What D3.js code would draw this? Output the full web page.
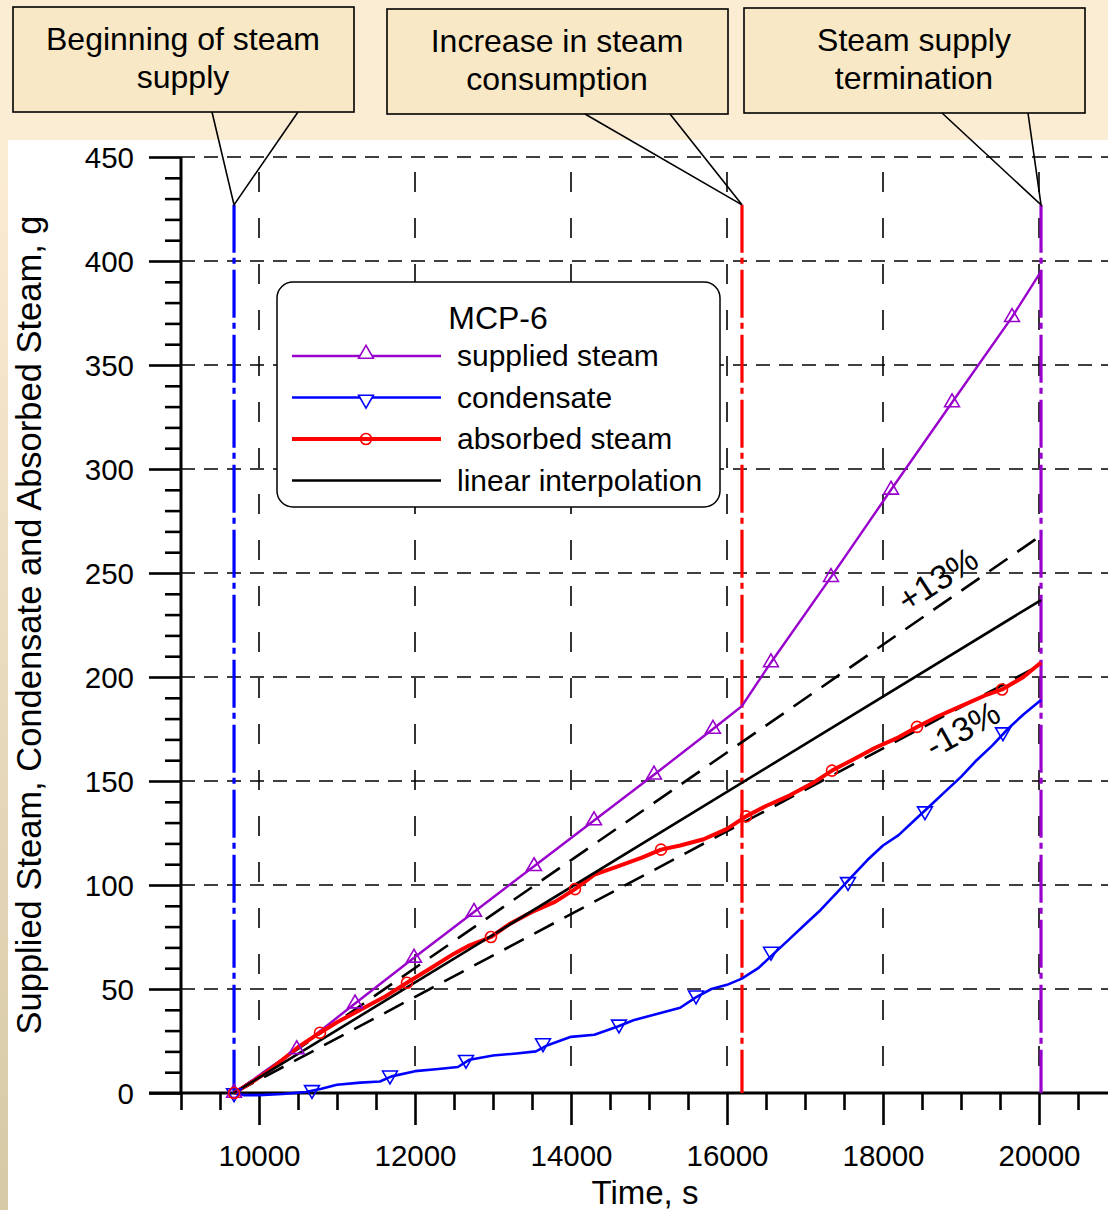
<!DOCTYPE html>
<html>
<head>
<meta charset="utf-8">
<script src="https://cdn.jsdelivr.net/npm/d3@7"></script>
<style>
  body { margin: 0; background: #fff; }
  svg { display: block; font-family: "Liberation Sans", Arial, sans-serif; }
</style>
</head>
<body>
<div id="chart"></div>
<script>
// ---- data ----
var supplyT = [9680, 10483, 11231, 11987, 12756, 13526, 14295, 15064, 15820, 16190, 16564, 17333, 18103, 18885, 19654, 20026];
var supplyV = [0, 21, 43, 65, 87, 109, 131, 153, 175, 186, 207, 248, 290, 332, 373, 395];
var supplyMarkT = [9680, 10483, 11231, 11987, 12756, 13526, 14295, 15064, 15820, 16564, 17333, 18103, 18885, 19654];
var supplyMarkV = [0, 21, 43, 65, 87, 109, 131, 153, 175, 207, 248, 290, 332, 373];

var condT = [9680, 9800, 10000, 10300, 10600, 10800, 11000, 11300, 11550, 11700, 12000, 12300, 12550, 12700, 13000, 13300, 13550, 13700, 14000, 14300, 14600, 14800, 15100, 15400, 15600, 15800, 16000, 16190, 16400, 16600, 16800, 17000, 17200, 17400, 17600, 17800, 18000, 18200, 18400, 18600, 18800, 19000, 19200, 19400, 19600, 19800, 20026];
var condV = [0, -1, -1, -0.5, 0.5, 2, 4, 5, 5.5, 8, 10.5, 11.5, 12.5, 16, 18, 19, 20, 23, 27, 28, 32, 35, 38, 41, 46, 50, 52, 55, 60, 67, 74, 81, 88, 96, 104, 112, 119, 124, 131, 138, 145, 152, 160, 167, 175, 182, 189];
var condMarkT = [9680, 10679, 11679, 12654, 13641, 14615, 15603, 16564, 17551, 18538, 19538];
var condMarkV = [0, 1.5, 8.5, 16, 24, 33, 47, 68, 101.5, 135.5, 173.5];

var absT = [9680, 9900, 10100, 10300, 10500, 10782, 11000, 11300, 11600, 11897, 12200, 12500, 12700, 12974, 13200, 13500, 13800, 14051, 14300, 14600, 14900, 15154, 15400, 15700, 16000, 16244, 16500, 16800, 17100, 17346, 17600, 17900, 18200, 18436, 18700, 19000, 19300, 19526, 19800, 20026];
var absV = [0, 5, 10, 16, 22, 29, 34, 40, 46, 53, 60, 67, 71, 75, 81, 87, 92, 98, 105, 109, 113, 117, 119, 122, 127, 133, 138, 143, 149, 155, 160, 166, 171, 176, 181, 186, 191, 194, 200, 207];
var absMarkT = [9680, 10782, 11897, 12974, 14051, 15154, 16244, 17346, 18436, 19526];
var absMarkV = [0, 29, 53, 75, 98, 117, 133, 155, 176, 194];

// linear interpolation and +/-13 % band
var linT = [9680, 20026];
var linV = [0, 237];
var plusV = [0, 268];
var minusV = [0, 206];

// event markers (start, increase, termination)
var eventT = [9680, 16192, 20026];
var eventTop = 427;
var eventColors = ["#0000ff", "#ff0000", "#9900cc"];
var calloutText = [["Beginning of steam", "supply"], ["Increase in steam", "consumption"], ["Steam supply", "termination"]];

var xMajor = [10000, 12000, 14000, 16000, 18000, 20000];
var xMinor = d3.range(9000, 20501, 500).filter(function(v){ return v % 2000 !== 0; });
var yMajor = [0, 50, 100, 150, 200, 250, 300, 350, 400, 450];
var yMinor = d3.range(0, 451, 10).filter(function(v){ return v % 50 !== 0; });

var legendNames = ["supplied steam", "condensate", "absorbed steam", "linear interpolation"];

// ---- drawing ----
var W = 1108, H = 1210;
var svg = d3.select("#chart").append("svg").attr("width", W).attr("height", H);

var defs = svg.append("defs");
var grad = defs.append("linearGradient").attr("id", "side").attr("x1", 0).attr("y1", 0).attr("x2", 0).attr("y2", 1);
grad.append("stop").attr("offset", "0%").attr("stop-color", "#fbecd4");
grad.append("stop").attr("offset", "100%").attr("stop-color", "#d6c9a6");

svg.append("rect").attr("width", W).attr("height", H).attr("fill", "#fbecd4");
svg.append("rect").attr("x", 0).attr("y", 140).attr("width", 8).attr("height", H - 140).attr("fill", "url(#side)");
svg.append("rect").attr("x", 8).attr("y", 140).attr("width", W - 8).attr("height", H - 140).attr("fill", "#fff");

var x = d3.scaleLinear().domain([10000, 20000]).range([259, 1039]);
var y = d3.scaleLinear().domain([0, 450]).range([1093, 157]);

// grid
var grid = svg.append("g").attr("stroke", "#000").attr("stroke-width", 1.6);
grid.selectAll("line.h").data(yMajor.filter(function(v){ return v > 0; })).enter().append("line")
	.attr("x1", 181).attr("x2", W)
	.attr("y1", function(d){ return y(d); }).attr("y2", function(d){ return y(d); })
	.attr("stroke-dasharray", "14,9");
grid.selectAll("line.v").data(xMajor).enter().append("line")
	.attr("x1", function(d){ return x(d); }).attr("x2", function(d){ return x(d); })
	.attr("y1", y(450)).attr("y2", y(0))
	.attr("stroke-dasharray", "0,15,20,11");

// axes
var xMinorAxis = svg.append("g").attr("transform", "translate(0," + y(0) + ")")
	.call(d3.axisBottom(x).tickValues(xMinor).tickSize(17).tickFormat(""));
var xMajorAxis = svg.append("g").attr("transform", "translate(0," + y(0) + ")")
	.call(d3.axisBottom(x).tickValues(xMajor).tickSize(32).tickPadding(20).tickFormat(d3.format("d")));
var yMinorAxis = svg.append("g").attr("transform", "translate(181,0)")
	.call(d3.axisLeft(y).tickValues(yMinor).tickSize(16).tickFormat(""));
var yMajorAxis = svg.append("g").attr("transform", "translate(181,0)")
	.call(d3.axisLeft(y).tickValues(yMajor).tickSize(32).tickPadding(15).tickFormat(d3.format("d")));

[xMinorAxis, xMajorAxis, yMinorAxis, yMajorAxis].forEach(function(a){
	a.select(".domain").remove();
	a.selectAll(".tick line").attr("stroke", "#000").attr("stroke-width", 2.6);
	a.selectAll("text").attr("fill", "#000").attr("font-size", 29.5).attr("font-family", "Liberation Sans, Arial, sans-serif");
});
yMajorAxis.selectAll("text").attr("dy", "0.36em");

svg.append("line").attr("x1", 149).attr("x2", W).attr("y1", y(0)).attr("y2", y(0))
	.attr("stroke", "#000").attr("stroke-width", 3);
svg.append("line").attr("x1", 181).attr("x2", 181).attr("y1", y(450)).attr("y2", y(0))
	.attr("stroke", "#000").attr("stroke-width", 3);

svg.append("text").text("Time, s")
	.attr("x", 645).attr("y", 1204).attr("text-anchor", "middle").attr("font-size", 33);
svg.append("text").text("Supplied Steam, Condensate and Absorbed Steam, g")
	.attr("transform", "translate(41,625) rotate(-90)").attr("text-anchor", "middle").attr("font-size", 34.5);

// event lines
svg.selectAll("line.event").data(eventT).enter().append("line")
	.attr("x1", function(d){ return x(d); }).attr("x2", function(d){ return x(d); })
	.attr("y1", y(eventTop)).attr("y2", y(0))
	.attr("stroke", function(d, i){ return eventColors[i]; })
	.attr("stroke-width", 3.2)
	.attr("stroke-dasharray", "48,5,6,6");

// +/-13 % and linear fit
var line = d3.line().x(function(d){ return x(d[0]); }).y(function(d){ return y(d[1]); });
function pairs(t, v){ return t.map(function(d, i){ return [d, v[i]]; }); }

svg.append("path").attr("d", line(pairs(linT, plusV))).attr("fill", "none")
	.attr("stroke", "#000").attr("stroke-width", 2.6).attr("stroke-dasharray", "22,12");
svg.append("path").attr("d", line(pairs(linT, minusV))).attr("fill", "none")
	.attr("stroke", "#000").attr("stroke-width", 2.6).attr("stroke-dasharray", "22,12");

svg.append("path").attr("d", line(pairs(condT, condV))).attr("fill", "none")
	.attr("stroke", "#0000ff").attr("stroke-width", 2.6).attr("stroke-linejoin", "round");
svg.append("path").attr("d", line(pairs(supplyT, supplyV))).attr("fill", "none")
	.attr("stroke", "#9900cc").attr("stroke-width", 2.4);
svg.append("path").attr("d", line(pairs(absT, absV))).attr("fill", "none")
	.attr("stroke", "#ff0000").attr("stroke-width", 4).attr("stroke-linejoin", "round");
svg.append("path").attr("d", line(pairs(linT, linV))).attr("fill", "none")
	.attr("stroke", "#000").attr("stroke-width", 2.6);

// markers
var triUp = d3.symbol().type(d3.symbolTriangle).size(95);
svg.selectAll("path.sup").data(pairs(supplyMarkT, supplyMarkV)).enter().append("path")
	.attr("d", triUp).attr("transform", function(d){ return "translate(" + x(d[0]) + "," + y(d[1]) + ")"; })
	.attr("fill", "none").attr("stroke", "#9900cc").attr("stroke-width", 1.6);
svg.selectAll("path.cond").data(pairs(condMarkT, condMarkV)).enter().append("path")
	.attr("d", triUp).attr("transform", function(d){ return "translate(" + x(d[0]) + "," + y(d[1]) + ") rotate(180)"; })
	.attr("fill", "none").attr("stroke", "#0000ff").attr("stroke-width", 1.6);
svg.selectAll("circle.abs").data(pairs(absMarkT, absMarkV)).enter().append("circle")
	.attr("cx", function(d){ return x(d[0]); }).attr("cy", function(d){ return y(d[1]); }).attr("r", 5.5)
	.attr("fill", "none").attr("stroke", "#ff0000").attr("stroke-width", 1.6);

svg.append("text").text("+13%").attr("font-size", 34).attr("text-anchor", "middle")
	.attr("transform", "translate(" + x(18700) + "," + y(247) + ") rotate(-33)").attr("dy", "0.35em");
svg.append("text").text("-13%").attr("font-size", 34).attr("text-anchor", "middle")
	.attr("transform", "translate(" + x(19020) + "," + y(175) + ") rotate(-29)").attr("dy", "0.35em");

// legend
var lg = svg.append("g").attr("transform", "translate(277,282)");
lg.append("rect").attr("width", 443).attr("height", 225).attr("rx", 16)
	.attr("fill", "#fff").attr("stroke", "#000").attr("stroke-width", 1.5);
lg.append("text").text("MCP-6").attr("x", 221).attr("y", 47).attr("text-anchor", "middle").attr("font-size", 32);
var lgColors = ["#9900cc", "#0000ff", "#ff0000", "#000"];
var lgWidths = [2.4, 2.6, 4, 2.6];
legendNames.forEach(function(name, i){
	var ly = 74 + i * 41.5;
	lg.append("line").attr("x1", 15).attr("x2", 164).attr("y1", ly).attr("y2", ly)
		.attr("stroke", lgColors[i]).attr("stroke-width", lgWidths[i]);
	if (i === 0) lg.append("path").attr("d", triUp).attr("transform", "translate(89," + (ly - 2) + ")")
		.attr("fill", "#fff").attr("stroke", lgColors[i]).attr("stroke-width", 1.6);
	if (i === 1) lg.append("path").attr("d", triUp).attr("transform", "translate(89," + (ly + 2) + ") rotate(180)")
		.attr("fill", "#fff").attr("stroke", lgColors[i]).attr("stroke-width", 1.6);
	if (i === 2) lg.append("circle").attr("cx", 89).attr("cy", ly).attr("r", 5.5)
		.attr("fill", "none").attr("stroke", lgColors[i]).attr("stroke-width", 1.6);
	lg.append("text").text(name).attr("x", 180).attr("y", ly + 10).attr("font-size", 30);
});

// callouts
var boxes = [[13, 7], [387, 9], [744, 8]];
var pointerBase = [[212, 298], [585, 670], [942, 1028]];
boxes.forEach(function(b, i){
	var g = svg.append("g");
	g.append("rect").attr("x", b[0]).attr("y", b[1]).attr("width", 341).attr("height", 105)
		.attr("fill", "#f8e8c5").attr("stroke", "#000").attr("stroke-width", 1.6);
	var tipX = x(eventT[i]), tipY = y(eventTop);
	g.append("polyline")
		.attr("points", pointerBase[i][0] + "," + (b[1] + 105) + " " + tipX + "," + tipY + " " + pointerBase[i][1] + "," + (b[1] + 105))
		.attr("fill", "none").attr("stroke", "#000").attr("stroke-width", 1.6);
	calloutText[i].forEach(function(t, j){
		g.append("text").text(t).attr("x", b[0] + 170).attr("y", b[1] + 43 + j * 38)
			.attr("text-anchor", "middle").attr("font-size", 32);
	});
});
</script>
</body>
</html>
